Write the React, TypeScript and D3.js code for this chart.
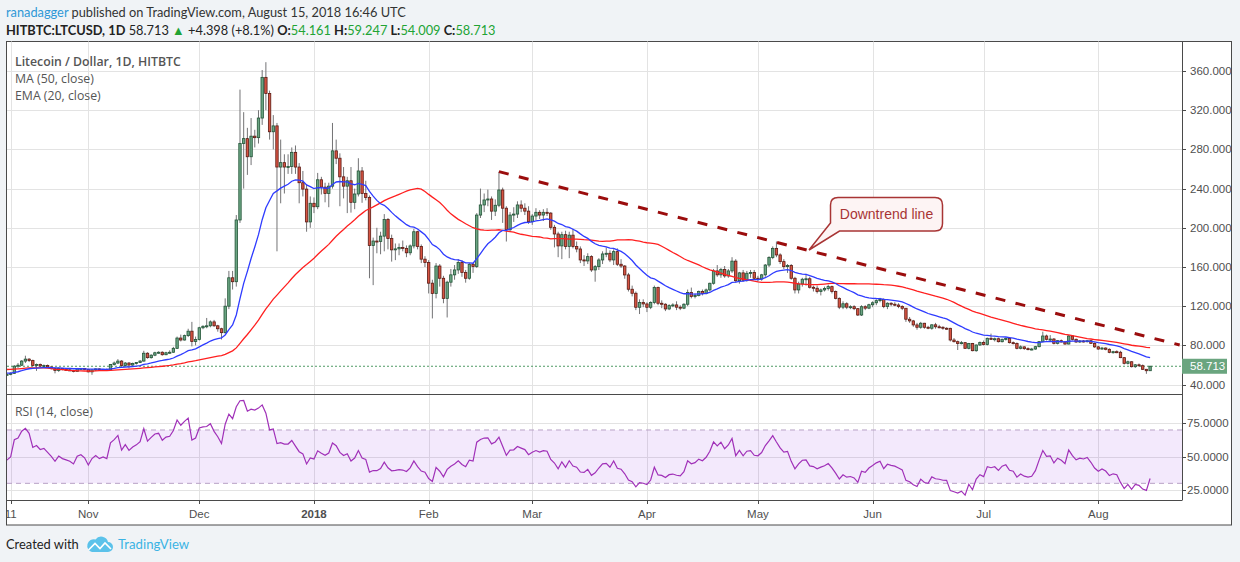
import React from 'react';
import * as d3 from 'd3';

// closes before the first visible bar (Aug 21 - Oct 9, 2017), only used to seed MA / EMA / RSI
const warmupCloses = [
  45, 44, 46, 47, 48, 48, 50, 55, 58, 62, 65,
  72, 80, 75, 68, 72, 74, 72, 64, 66, 62, 62, 59, 52, 43, 51, 50, 49, 55, 52, 53,
  47, 46, 48, 47, 50, 49, 53, 52, 52, 54,
  54, 53, 52, 52, 51, 52, 52, 51, 50,
];

// daily bars [open, high, low, close]
const oct2017 = [
  [50, 51, 49, 50.5], [50.5, 52.5, 49.5, 51.5], [51.5, 60, 51, 58.8], [58.8, 62, 57, 59.8],
  [59.8, 65, 59, 64], [64, 69.5, 62, 66], [66, 67, 63, 64.5], [64.5, 65.5, 58.5, 59.5],
  [59.5, 61.5, 54, 60.5], [60.5, 61.5, 58, 59], [59, 60.5, 58, 59.5], [59.5, 60.5, 57, 58],
  [58, 58.5, 55.5, 56.5], [56.5, 57.5, 51.5, 54.5], [54.5, 57.5, 53, 56.5], [56.5, 57, 54.5, 55.5],
  [55.5, 56.5, 54.5, 55], [55, 56, 54, 54.5], [54.5, 55, 52.5, 53.5], [53.5, 57, 53, 56],
  [56, 57, 55, 56.5], [56.5, 57, 55, 55.5],
];
const nov2017 = [
  [55.5, 56, 52.5, 53], [53, 55.5, 50, 55], [55, 56.5, 54, 56], [56, 56.5, 54.5, 55],
  [55, 56, 54, 55.5], [55.5, 56.5, 54.5, 55], [55, 61, 54.5, 60.5], [60.5, 63.5, 59.5, 62],
  [62, 66, 61, 64], [64, 65, 58, 59.5], [59.5, 63, 58.5, 62], [62, 63, 56.5, 60],
  [60, 62.5, 59, 61.5], [61.5, 63, 60.5, 62.5], [62.5, 65, 62, 64], [64, 74.5, 63.5, 72],
  [72, 73, 66.5, 67.5], [67.5, 71, 66.5, 70], [70, 73.5, 69, 72.5], [72.5, 74, 71.5, 73],
  [73, 74, 69.5, 70.5], [70.5, 73.5, 70, 72.5], [72.5, 75, 71.5, 73], [73, 78.5, 72.5, 77],
  [77, 89, 76.5, 87.5], [87.5, 91, 84, 85.5], [85.5, 91, 85, 90], [90, 97, 88.5, 94.5],
  [94.5, 104, 79, 84], [84, 89, 80, 86],
];
const dec2017 = [
  [86, 99, 85, 98], [98, 100.5, 96.5, 99.5], [99.5, 108, 97.5, 100], [100, 105.5, 98.5, 104],
  [104, 106, 99, 100], [100, 101, 94, 97], [97, 98, 86, 93], [93, 128, 92, 120],
  [120, 156, 117, 149], [149, 156, 137, 145], [145, 213, 140, 208], [208, 341, 205, 286],
  [286, 318, 240, 291], [291, 302, 254, 272.5], [272.5, 312, 264, 293.5], [293.5, 300, 282, 292],
  [292, 320, 286, 312], [312, 361, 305, 353.5], [353.5, 369, 320, 337], [337, 340, 290, 298],
  [298, 315, 280, 304], [304, 307, 176, 262], [262, 290, 225, 266.5], [266.5, 275, 235, 262],
  [262, 275, 255, 262.5], [262.5, 282, 255, 277], [277, 284, 255, 262], [262, 266, 225, 246],
  [246, 258, 232, 239.5], [239.5, 244, 196, 206], [206, 232, 200, 225],
];
const jan2018 = [
  [225, 231, 215, 221.5], [221.5, 256, 219, 249], [249, 252, 234, 241.5], [241.5, 246, 226, 235],
  [235, 246, 221, 242.5], [242.5, 307, 240, 278.5], [278.5, 290, 265, 271], [271, 276, 222, 252],
  [252, 262, 230, 242.5], [242.5, 252, 215, 248], [248, 262, 215.5, 226], [226, 240, 219, 234.5],
  [234.5, 271, 232, 258], [258, 262, 225.5, 235], [235, 248, 228, 231], [231, 233, 148.5, 182],
  [182, 190, 141.5, 186.5], [186.5, 200, 174, 186], [186, 196, 173, 191.5], [191.5, 214, 176, 208.5],
  [208.5, 210, 178, 189], [189, 193, 165.5, 177.5], [177.5, 184, 167, 178.5], [178.5, 184, 172, 180],
  [180, 187, 176, 179], [179, 182, 170, 174.5], [174.5, 183, 172, 181.5], [181.5, 199, 179, 196],
  [196, 197, 178, 181], [181, 183, 164, 168], [168, 171, 160, 164.5],
];
const feb2018 = [
  [164.5, 167, 133, 143.5], [143.5, 147, 107.5, 133], [133, 164, 128, 161], [161, 163, 140, 148.5],
  [148.5, 151, 123, 128], [128, 146, 108.5, 144.5], [144.5, 158, 140, 152], [152, 162, 147, 157],
  [157, 168, 153, 164.5], [164.5, 167, 150, 154.5], [154.5, 157, 144, 148.5], [148.5, 164, 147, 162.8],
  [162.8, 164, 154, 160.5], [160.5, 215, 159, 213], [213, 240, 210, 223.3], [223.3, 235, 216, 228.4],
  [228.4, 239, 222, 229.4], [229.4, 232, 208, 217], [217, 229, 212, 223], [223, 257.3, 221, 238.6],
  [238.6, 241, 205, 220], [220, 222, 186, 198], [198, 216, 196, 213], [213, 221, 206, 214],
  [214, 227, 210, 223.3], [223.3, 228, 216, 220], [220, 225, 213, 217], [217, 222, 204, 206.3],
];
const mar2018 = [
  [206.3, 214, 203, 212], [212, 220, 208, 215.8], [215.8, 218, 209, 213], [213, 219, 207, 215.8],
  [215.8, 220, 212, 215], [215, 216, 198, 200.5], [200.5, 203, 180, 193.7], [193.7, 196, 170, 181.5],
  [181.5, 196, 168, 193], [193, 197, 178, 181], [181, 196, 169, 192.5], [192.5, 199, 179, 181],
  [181, 186, 175, 178.4], [178.4, 181, 164, 167.2], [167.2, 172, 161, 166.2], [166.2, 174, 163, 170.6],
  [170.6, 172, 155, 157], [157, 162, 145, 160.4], [160.4, 169, 157, 167.2], [167.2, 176, 163, 173.3],
  [173.3, 180, 170, 174], [174, 177, 165, 167.2], [167.2, 178, 162, 175.7], [175.7, 179, 161, 162.8],
  [162.8, 168, 159, 161], [161, 162, 148, 151.9], [151.9, 154, 135, 137.3], [137.3, 141, 130, 133.2],
  [133.2, 135, 116, 118.9], [118.9, 127, 112, 123.7], [123.7, 127, 119, 122.3],
];
const apr2018 = [
  [122.3, 124, 114, 118.9], [118.9, 125, 117, 123.7], [123.7, 141, 122, 139], [139, 140, 121, 123],
  [123, 126, 118, 122], [122, 123, 115, 117.2], [117.2, 122, 116, 120.6], [120.6, 123, 119, 121.3],
  [121.3, 125, 116, 119], [119, 121, 116, 118], [118, 123, 117, 122], [122, 137, 120, 133.9],
  [133.9, 139, 128, 129.8], [129.8, 133, 128, 131], [131, 136, 130, 134.9], [134.9, 137, 131, 133],
  [133, 138, 132, 136.6], [136.6, 144, 135, 143.4], [143.4, 158, 142, 156], [156, 162, 150, 152],
  [152, 159, 149, 157.5], [157.5, 161, 149, 150.9], [150.9, 158, 149, 156], [156, 170, 154, 166],
  [166, 168, 144, 146], [146, 155, 143, 154], [154, 157, 145, 146.5], [146.5, 156, 145, 153.6],
  [153.6, 157, 149, 154.3], [154.3, 157, 147, 148.5],
];
const may2018 = [
  [148.5, 151, 145, 147.8], [147.8, 153, 146, 152], [152, 163, 150, 162], [162, 171, 160, 169.6],
  [169.6, 181, 168, 179], [179, 186, 170, 172.3], [172.3, 174, 163, 165.5], [165.5, 168, 158, 160.4],
  [160.4, 163, 154, 161.5], [161.5, 163, 147, 148.5], [148.5, 150, 133, 136.6], [136.6, 145, 133, 142.7],
  [142.7, 149, 140, 147.5], [147.5, 153, 141, 148], [148, 150, 138, 139.3], [139.3, 141, 135, 138.3],
  [138.3, 141, 133, 134.9], [134.9, 138, 131, 136.6], [136.6, 140, 135, 138], [138, 142, 136, 140],
  [140, 141, 133, 134.9], [134.9, 136, 127, 128], [128, 129, 117, 119], [119, 125, 117, 122.5],
  [122.5, 124, 117, 119], [119, 121, 117, 119.5], [119.5, 121, 116, 117.5], [117.5, 118, 110, 111],
  [111, 121, 110, 119.5], [119.5, 121, 116, 118], [118, 122.5, 117, 121.5],
];
const jun2018 = [
  [121.5, 125, 119, 123.5], [123.5, 127, 121, 125.7], [125.7, 128.5, 124, 127], [127, 128, 118, 119.6],
  [119.6, 124, 117, 123], [123, 124, 120, 122], [122, 124, 120, 121.2], [121.2, 123, 118, 119.6],
  [119.6, 121, 116, 117.9], [117.9, 118, 104, 106.7], [106.7, 109, 103, 105], [105, 106, 99, 100.9],
  [100.9, 103, 96, 98.5], [98.5, 104, 97, 102.6], [102.6, 103, 97, 98.5], [98.5, 100, 96.5, 97.5],
  [97.5, 101.5, 96, 101], [101, 103, 97, 99], [99, 101, 97.5, 98.5], [98.5, 99.5, 96, 97.5],
  [97.5, 98.5, 96, 97.4], [97.4, 98, 84, 85.5], [85.5, 87.5, 83, 83.8], [83.8, 85, 75.3, 82],
  [82, 84.5, 81, 82.8], [82.8, 83.5, 76.5, 77], [77, 82.5, 76, 82], [82, 82.5, 74, 74.6],
  [74.6, 81, 73.5, 80.4], [80.4, 84, 79.5, 83],
];
const jul2018 = [
  [83, 85, 80, 81], [81, 88, 80, 87.2], [87.2, 92, 85.5, 86.2], [86.2, 88, 84, 86.8],
  [86.8, 88, 83, 83.8], [83.8, 87, 83, 86.2], [86.2, 88, 85, 87], [87, 88, 82, 82.8],
  [82.8, 84, 81, 82], [82, 83, 76, 77], [77, 80, 76, 78.5], [78.5, 79, 75.5, 76.7],
  [76.7, 78, 75, 76], [76, 77.5, 75, 76.3], [76.3, 79.5, 75.5, 78.7], [78.7, 84.5, 78, 83.8],
  [83.8, 94, 83, 89.6], [89.6, 91, 85, 86.2], [86.2, 90.5, 84.5, 86.5], [86.5, 87.5, 81, 82.1],
  [82.1, 85.5, 81, 84.8], [84.8, 86, 83, 83.5], [83.5, 84.5, 80.5, 81.4], [81.4, 90.5, 81, 89.6],
  [89.6, 90.5, 85, 86.2], [86.2, 87, 82.5, 83.5], [83.5, 85.5, 82.5, 84.5], [84.5, 85.5, 83, 84],
  [84, 85, 83, 84.8], [84.8, 85.5, 81.5, 82.1], [82.1, 83, 77.5, 78.5],
];
const aug2018 = [
  [78.5, 79.5, 75.5, 76.3], [76.3, 78.5, 75.5, 77.3], [77.3, 78, 75, 76], [76, 77, 72, 72.9],
  [72.9, 74.5, 71.5, 73.6], [73.6, 75, 72, 73], [73, 74.5, 67, 67.5], [67.5, 68, 60.5, 61.7],
  [61.7, 64.5, 60.5, 63.3], [63.3, 63.8, 57.5, 58.3], [58.3, 61, 57, 60.2], [60.2, 61.5, 58.5, 59.3],
  [59.3, 60.5, 55, 55.6], [55.6, 56, 51, 54.161], [54.161, 59.247, 54.009, 58.713],
];

const firstBar = Date.UTC(2017, 9, 10);
const DAY = 86400000;

const priceTicks = [40, 80, 120, 160, 200, 240, 280, 320, 360];
const rsiTicks = [25, 50, 75];
const timeTicks: [number, string][] = [
  [Date.UTC(2017, 9, 11), '11'],
  [Date.UTC(2017, 10, 1), 'Nov'],
  [Date.UTC(2017, 11, 1), 'Dec'],
  [Date.UTC(2018, 0, 1), '2018'],
  [Date.UTC(2018, 1, 1), 'Feb'],
  [Date.UTC(2018, 2, 1), 'Mar'],
  [Date.UTC(2018, 3, 1), 'Apr'],
  [Date.UTC(2018, 4, 1), 'May'],
  [Date.UTC(2018, 5, 1), 'Jun'],
  [Date.UTC(2018, 6, 1), 'Jul'],
  [Date.UTC(2018, 7, 1), 'Aug'],
];
// hand-drawn downtrend line: [time, price]
const trendLine: [number, number][] = [
  [Date.UTC(2018, 1, 20), 257.3],
  [Date.UTC(2018, 7, 23), 80.4],
];
const lastQuote = { open: '54.161', high: '59.247', low: '54.009', close: '58.713', change: '+4.398', pct: '(+8.1%)' };

const W = 1240;
const H = 562;
const left = 7;
const right = 1182;
const mainTop = 41.5;
const paneSplit = 394;
const rsiBottom = 500;
const frameBottom = 525;

const UP = { fill: '#6ba583', stroke: '#225437' };
const DOWN = { fill: '#d75442', stroke: '#5b1a13' };
const axisFont = '"Liberation Sans", Arial, sans-serif';
const uiFont = '"Open Sans", "Noto Sans", sans-serif';
const headFont = 'Lato, "Open Sans", sans-serif';

const bars = [
  ...oct2017, ...nov2017, ...dec2017, ...jan2018, ...feb2018, ...mar2018,
  ...apr2018, ...may2018, ...jun2018, ...jul2018, ...aug2018,
].map((b, i) => ({ t: firstBar + i * DAY, o: b[0], h: b[1], l: b[2], c: b[3] }));

const allCloses = [...warmupCloses, ...bars.map(b => b.c)];
const off = warmupCloses.length;

// MA(50)
const ma50 = bars.map((b, i) => [b.t, d3.mean(allCloses.slice(off + i - 49, off + i + 1)) as number] as [number, number]);

// EMA(20)
const emaAll: number[] = [];
{
  const k = 2 / 21;
  let e = d3.mean(allCloses.slice(0, 20)) as number;
  allCloses.forEach((c, i) => {
    if (i >= 20) e = c * k + e * (1 - k);
    emaAll.push(e);
  });
}
const ema20 = bars.map((b, i) => [b.t, emaAll[off + i]] as [number, number]);

// RSI(14), Wilder smoothing
const rsiAll: number[] = [];
{
  let g = 0, l = 0;
  for (let i = 1; i < allCloses.length; i++) {
    const ch = allCloses[i] - allCloses[i - 1];
    const up = Math.max(ch, 0), dn = Math.max(-ch, 0);
    if (i <= 14) {
      g += up / 14; l += dn / 14;
    } else {
      g = (g * 13 + up) / 14; l = (l * 13 + dn) / 14;
    }
    rsiAll[i] = l === 0 ? 100 : 100 - 100 / (1 + g / l);
  }
}
const rsi14 = bars.map((b, i) => [b.t, rsiAll[off + i]] as [number, number]);

const x = d3.scaleUtc().domain([Date.UTC(2017, 10, 1), Date.UTC(2018, 7, 1)]).range([88.3, 1098.3]);
const y = d3.scaleLinear().domain([40, 360]).range([384.6, 71]);
const yr = d3.scaleLinear().domain([25, 75]).range([490, 423.3]);

const priceLine = d3.line<[number, number]>().x(d => x(d[0])).y(d => y(d[1]));
const rsiLine = d3.line<[number, number]>().x(d => x(d[0])).y(d => yr(d[1]));

const App: React.FC = () => {
  const lastY = y(+lastQuote.close);
  const green = '#21a334';
  return (
    <div style={{ position: 'fixed', left: 0, top: 0, width: W, height: H, background: '#f0f3f6' }}>
      <svg width={W} height={H} style={{ display: 'block' }}>
        <defs>
          <clipPath id="mainClip"><rect x={left} y={mainTop} width={right - left} height={paneSplit - mainTop} /></clipPath>
          <clipPath id="rsiClip"><rect x={left} y={paneSplit} width={right - left} height={rsiBottom - paneSplit} /></clipPath>
        </defs>

        {/* header */}
        <text x={6} y={17} fontFamily={headFont} fontSize={12.8} fill="#333">
          <tspan fill="#2e98d6">ranadagger</tspan> published on TradingView.com, August 15, 2018 16:46 UTC
        </text>
        <text x={6} y={35} fontFamily={headFont} fontSize={12.8} fill="#222">
          <tspan fontWeight="bold">HITBTC:LTCUSD, 1D</tspan>
          <tspan> {lastQuote.close} </tspan>
          <tspan fill={green}>▲</tspan>
          <tspan> {lastQuote.change} {lastQuote.pct} </tspan>
          <tspan fontWeight="bold">O:</tspan><tspan fill={green}>{lastQuote.open}</tspan>
          <tspan fontWeight="bold"> H:</tspan><tspan fill={green}>{lastQuote.high}</tspan>
          <tspan fontWeight="bold"> L:</tspan><tspan fill={green}>{lastQuote.low}</tspan>
          <tspan fontWeight="bold"> C:</tspan><tspan fill={green}>{lastQuote.close}</tspan>
        </text>

        {/* frame */}
        <rect x={6.5} y={mainTop} width={1225} height={frameBottom - mainTop} fill="#fff" stroke="#4a4a4a" />

        {/* grids */}
        <g stroke="#e3e3e3" strokeWidth={1}>
          {timeTicks.map(([t]) => (
            <line key={t} x1={Math.round(x(t)) + 0.5} x2={Math.round(x(t)) + 0.5} y1={mainTop} y2={rsiBottom} />
          ))}
          {priceTicks.map(p => (
            <line key={p} x1={left} x2={right} y1={Math.round(y(p)) + 0.5} y2={Math.round(y(p)) + 0.5} />
          ))}
          {rsiTicks.map(v => (
            <line key={v} x1={left} x2={right} y1={Math.round(yr(v)) + 0.5} y2={Math.round(yr(v)) + 0.5} />
          ))}
        </g>

        {/* RSI band */}
        <rect x={left} y={yr(70)} width={right - left} height={yr(30) - yr(70)} fill="#8a2be2" fillOpacity={0.1} />
        <g stroke="#b7a2c6" strokeDasharray="5,4" strokeWidth={1}>
          <line x1={left} x2={right} y1={yr(70)} y2={yr(70)} />
          <line x1={left} x2={right} y1={yr(30)} y2={yr(30)} />
        </g>

        {/* main pane */}
        <g clipPath="url(#mainClip)">
          <line x1={left} x2={right} y1={lastY} y2={lastY} stroke="#4f9a64" strokeDasharray="2,2" />
          <g>
            {bars.map(b => {
              const cx = x(b.t);
              const col = b.c >= b.o ? UP : DOWN;
              const top = y(Math.max(b.o, b.c));
              const h = Math.max(1, Math.abs(y(b.o) - y(b.c)));
              return (
                <g key={b.t}>
                  <line x1={cx} x2={cx} y1={y(b.h)} y2={y(b.l)} stroke="#737375" strokeWidth={1} />
                  <rect x={cx - 1.2} y={top} width={2.4} height={h} fill={col.fill} stroke={col.stroke} strokeWidth={0.8} />
                </g>
              );
            })}
          </g>
          <path d={priceLine(ma50) || ''} fill="none" stroke="#ff2020" strokeWidth={1.3} />
          <path d={priceLine(ema20) || ''} fill="none" stroke="#2f3cff" strokeWidth={1.3} />
          <path d={priceLine(trendLine) || ''} fill="none" stroke="#9b0d0d" strokeWidth={3} strokeDasharray="10,10.5" />
        </g>

        {/* callout */}
        <path
          d="M838,197.5 H935 Q942.5,197.5 942.5,205 V223.5 Q942.5,231 935,231 H839.5 L809,250 L830.5,223 V205 Q830.5,197.5 838,197.5 Z"
          fill="#fdf4f4" stroke="#a83434" strokeWidth={1.5}
        />
        <text x={886.5} y={219} textAnchor="middle" fontFamily={axisFont} fontSize={14} fill="#a83434">Downtrend line</text>

        {/* RSI pane */}
        <g clipPath="url(#rsiClip)">
          <path d={rsiLine(rsi14) || ''} fill="none" stroke="#a030b8" strokeWidth={1.2} />
        </g>

        {/* legends */}
        <g fontFamily={uiFont} fontSize={12.3} fill="#555">
          <text x={15} y={66} fontWeight={600}>Litecoin / Dollar, 1D, HITBTC</text>
          <text x={15} y={83}>MA (50, close)</text>
          <text x={15} y={100}>EMA (20, close)</text>
          <text x={15} y={416}>RSI (14, close)</text>
        </g>

        {/* separators */}
        <g stroke="#4a4a4a" strokeWidth={1}>
          <line x1={6.5} x2={right} y1={paneSplit + 0.5} y2={paneSplit + 0.5} />
          <line x1={6.5} x2={right} y1={rsiBottom + 0.5} y2={rsiBottom + 0.5} />
          <line x1={right + 0.5} x2={right + 0.5} y1={mainTop} y2={rsiBottom + 0.5} />
        </g>

        {/* price axis */}
        <g fontFamily={axisFont} fontSize={11.5} fill="#4f4f4f">
          {priceTicks.map(p => (
            <g key={p}>
              <line x1={right} x2={right + 4} y1={Math.round(y(p)) + 0.5} y2={Math.round(y(p)) + 0.5} stroke="#4a4a4a" />
              <text x={1190} y={y(p) + 4}>{p.toFixed(3)}</text>
            </g>
          ))}
          {rsiTicks.map(v => (
            <g key={v}>
              <line x1={right} x2={right + 4} y1={Math.round(yr(v)) + 0.5} y2={Math.round(yr(v)) + 0.5} stroke="#4a4a4a" />
              <text x={1187} y={yr(v) + 4}>{v.toFixed(4)}</text>
            </g>
          ))}
        </g>
        <rect x={right} y={lastY - 7.5} width={45} height={15} fill="#6aa57f" />
        <text x={1190} y={lastY + 4} fontFamily={axisFont} fontSize={11.5} fill="#fff">{lastQuote.close}</text>

        {/* time axis */}
        <g fontFamily={axisFont} fontSize={11.5} fill="#4f4f4f" textAnchor="middle">
          {timeTicks.map(([t, label]) => (
            <g key={t}>
              <line x1={Math.round(x(t)) + 0.5} x2={Math.round(x(t)) + 0.5} y1={rsiBottom} y2={rsiBottom + 4} stroke="#4a4a4a" />
              <text x={x(t)} y={518} fontWeight={label === '2018' ? 'bold' : 'normal'}>{label}</text>
            </g>
          ))}
        </g>
        <rect x={0} y={mainTop} width={6} height={frameBottom - mainTop + 1} fill="#f0f3f6" />
        <line x1={6.5} x2={6.5} y1={mainTop} y2={frameBottom} stroke="#4a4a4a" />

        {/* footer */}
        <text x={6} y={549} fontFamily={headFont} fontSize={12.9} fill="#222">Created with</text>
        <path d="M92,552 H108 A5,5 0 0 0 108,542 A7,7 0 0 0 95.5,539.5 A6,6 0 0 0 92,552 Z" fill="#5bc2ea" />
        <polyline points="88.5,550 95,543.5 100,548.5 105,543 111,549" fill="none" stroke="#fff" strokeWidth={1.6} />
        <text x={118} y={549} fontFamily={headFont} fontSize={13.2} fill="#3bb3e4">TradingView</text>
      </svg>
    </div>
  );
};

export default App;
